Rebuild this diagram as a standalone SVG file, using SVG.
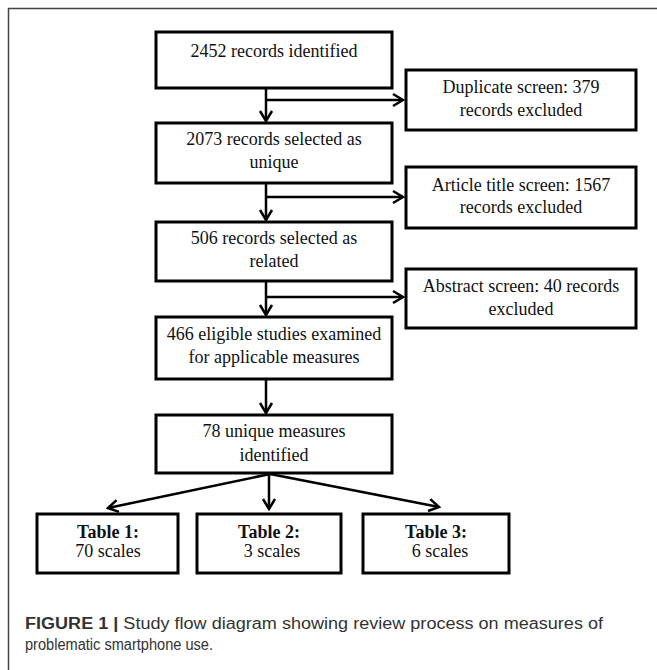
<svg xmlns="http://www.w3.org/2000/svg" width="657" height="670" viewBox="0 0 657 670">
<style>
.box{fill:#fff;stroke:#000;stroke-width:3}
.t{font-family:"Liberation Serif","Times New Roman",serif;font-size:18px;fill:#111;text-anchor:middle}
.b{font-weight:bold}
.ln{fill:none;stroke:#000;stroke-width:2.5}
.cap{font-family:"Liberation Sans",Arial,sans-serif;font-size:16px;fill:#333}
</style>
<defs>
<marker id="ah" viewBox="-12 -8 14 16" refX="0" refY="0" markerWidth="14" markerHeight="16" markerUnits="userSpaceOnUse" orient="auto">
<path d="M-10,-6 L0,0 L-10,6" fill="none" stroke="#000" stroke-width="2.5" stroke-linejoin="miter"/>
</marker>
</defs>
<rect width="657" height="670" fill="#fff"/>
<path d="M8.5,670 V8.5 H657" fill="none" stroke="#444" stroke-width="1.5"/>

<g id="connectors">
<line class="ln" x1="266" y1="88" x2="266" y2="121" marker-end="url(#ah)"/>
<line class="ln" x1="266" y1="100" x2="403" y2="100" marker-end="url(#ah)"/>
<line class="ln" x1="266" y1="183" x2="266" y2="220" marker-end="url(#ah)"/>
<line class="ln" x1="266" y1="197" x2="403" y2="197" marker-end="url(#ah)"/>
<line class="ln" x1="266" y1="281" x2="266" y2="315" marker-end="url(#ah)"/>
<line class="ln" x1="266" y1="297" x2="403" y2="297" marker-end="url(#ah)"/>
<line class="ln" x1="266" y1="379" x2="266" y2="413" marker-end="url(#ah)"/>
<line class="ln" x1="270" y1="474" x2="108" y2="508" marker-end="url(#ah)"/>
<line class="ln" x1="269" y1="474" x2="269" y2="509" marker-end="url(#ah)"/>
<line class="ln" x1="270" y1="474" x2="439" y2="507" marker-end="url(#ah)"/>
</g>

<g id="n1"><rect class="box" x="156" y="32" width="236" height="56"/>
<text class="t" x="274" y="57">2452 records identified</text></g>
<g id="n2"><rect class="box" x="156" y="123" width="236" height="60"/>
<text class="t" x="274" y="145">2073 records selected as</text><text class="t" x="274" y="168">unique</text></g>
<g id="n3"><rect class="box" x="156" y="222" width="236" height="59"/>
<text class="t" x="274" y="244">506 records selected as</text><text class="t" x="274" y="267">related</text></g>
<g id="n4"><rect class="box" x="156" y="317" width="236" height="62"/>
<text class="t" x="274" y="340">466 eligible studies examined</text><text class="t" x="274" y="363">for applicable measures</text></g>
<g id="n5"><rect class="box" x="156" y="415" width="236" height="58"/>
<text class="t" x="274" y="437">78 unique measures</text><text class="t" x="274" y="461">identified</text></g>

<g id="s1"><rect class="box" x="406" y="70" width="230" height="60"/>
<text class="t" x="521" y="93">Duplicate screen: 379</text><text class="t" x="521" y="116">records excluded</text></g>
<g id="s2"><rect class="box" x="406" y="167" width="230" height="61"/>
<text class="t" x="521" y="191">Article title screen: 1567</text><text class="t" x="521" y="213">records excluded</text></g>
<g id="s3"><rect class="box" x="406" y="269" width="230" height="59"/>
<text class="t" x="521" y="292">Abstract screen: 40 records</text><text class="t" x="521" y="315">excluded</text></g>

<g id="t1"><rect class="box" x="37" y="514" width="141" height="59"/>
<text class="t b" x="108" y="538">Table 1:</text><text class="t" x="108" y="557">70 scales</text></g>
<g id="t2"><rect class="box" x="197" y="514" width="144" height="59"/>
<text class="t b" x="269" y="538">Table 2:</text><text class="t" x="272" y="557">3 scales</text></g>
<g id="t3"><rect class="box" x="363" y="514" width="146" height="59"/>
<text class="t b" x="436" y="538">Table 3:</text><text class="t" x="440" y="557">6 scales</text></g>

<g id="caption">
<text class="cap" x="25" y="629" textLength="578" lengthAdjust="spacingAndGlyphs"><tspan font-weight="bold">FIGURE 1</tspan> <tspan font-weight="bold">|</tspan> Study flow diagram showing review process on measures of</text>
<text class="cap" x="25" y="650" textLength="188" lengthAdjust="spacingAndGlyphs">problematic smartphone use.</text>
</g>
</svg>
